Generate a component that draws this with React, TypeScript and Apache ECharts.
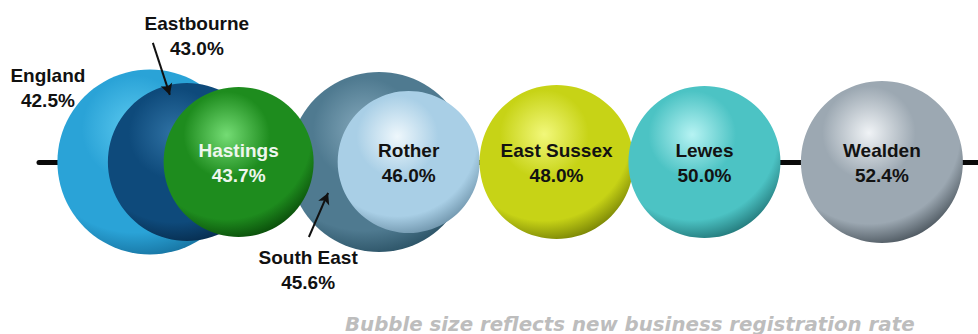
import React, { useEffect, useRef } from "react";
import * as echarts from "echarts";

// Areas along the axis (%)
const names = ["England", "Eastbourne", "South East", "Hastings", "Rother", "East Sussex", "Lewes", "Wealden"];
const rates = [42.5, 43.0, 45.6, 43.7, 46.0, 48.0, 50.0, 52.4];
// Bubble size reflects new business registration rate (relative diameter)
const bubbleSizes = [185, 158, 180, 150, 142, 154, 152, 162];
const noteText = "Bubble size reflects new business registration rate";

// Sphere colours: [highlight, base, edge]
const sphereColors: Record<string, string[]> = {
  England: ["#5ccaf0", "#2aa3d7", "#156f9c"],
  Eastbourne: ["#2f72a4", "#0e4a7b", "#062a4a"],
  "South East": ["#86aabd", "#4f7a90", "#284f62"],
  Hastings: ["#74dc74", "#1e8c1e", "#084608"],
  Rother: ["#eef7fc", "#a9cfe6", "#6a8fa6"],
  "East Sussex": ["#f2f87a", "#c7d316", "#717c04"],
  Lewes: ["#b6f3f3", "#4cc3c4", "#1f7173"],
  Wealden: ["#f0f3f6", "#9ca8b2", "#444e56"],
};

// Outside-label placements (label offset from bubble centre)
const outsideLabels: Record<string, number[]> = {
  England: [-102, -74],
  Eastbourne: [10, -126],
  "South East": [-71, 108],
};

// Arrow annotations in data coordinates [[x1, y1], [x2, y2]]
const arrowEastbourne = [[42.54, 0.735], [42.77, 0.414]];
const arrowSouthEast = [[44.65, -0.463], [44.91, -0.191]];

export default function App() {
  const ref = useRef<HTMLDivElement>(null);

  useEffect(() => {
    if (!ref.current) return;
    const chart = echarts.init(ref.current, null, { renderer: "svg" });

    const data = names.map((name, i) => {
      const [hi, base, edge] = sphereColors[name];
      const outside = outsideLabels[name];
      return {
        name,
        value: [rates[i], 0, bubbleSizes[i]],
        itemStyle: {
          opacity: 1,
          color: new echarts.graphic.RadialGradient(0.42, 0.32, 0.72, [
            { offset: 0, color: hi },
            { offset: 0.4, color: base },
            { offset: 0.78, color: base },
            { offset: 1, color: edge },
          ]),
        },
        label: outside
          ? { position: "inside", offset: outside, color: "#111111" }
          : {
              position: "inside",
              offset: [0, 1],
              color: name === "Hastings" ? "#eef6ee" : "#121212",
            },
      };
    });

    chart.setOption({
      animation: false,
      grid: { left: 39, right: 0, top: 0, height: 324 },
      xAxis: {
        type: "value",
        min: 41,
        max: 53.7,
        axisLine: { show: true, onZero: true, lineStyle: { color: "#0a0a0a", width: 5 } },
        axisTick: { show: false },
        axisLabel: { show: false },
        splitLine: { show: false },
      },
      yAxis: {
        type: "value",
        min: -1,
        max: 1,
        show: false,
        splitLine: { show: false },
      },
      series: [
        {
          type: "scatter",
          clip: false,
          z: 2,
          data,
          symbolSize: (v: number[]) => v[2],
          itemStyle: { opacity: 1 },
          emphasis: { disabled: true },
          label: {
            show: true,
            fontFamily: "Liberation Sans, Arial, sans-serif",
            fontWeight: "bold",
            fontSize: 19,
            lineHeight: 25,
            align: "center",
            verticalAlign: "middle",
            formatter: (p: any) => `${p.name}\n${p.value[0].toFixed(1)}%`,
          },
        },
        {
          type: "scatter",
          z: 5,
          data: [],
          markLine: {
            silent: true,
            symbol: ["none", "arrow"],
            symbolSize: [9, 11],
            label: { show: false },
            lineStyle: { color: "#111111", width: 2, type: "solid", opacity: 1 },
            emphasis: { disabled: true },
            data: [
              [{ coord: arrowEastbourne[0] }, { coord: arrowEastbourne[1] }],
              [{ coord: arrowSouthEast[0] }, { coord: arrowSouthEast[1] }],
            ],
          },
        },
      ],
      graphic: [
        {
          type: "text",
          left: 345,
          top: 314,
          style: {
            text: noteText,
            fontFamily: "DejaVu Sans, sans-serif",
            fontWeight: "bold",
            fontStyle: "italic",
            fontSize: 19.8,
            fill: "#bdbdbd",
          },
        },
      ],
    });

    return () => chart.dispose();
  }, []);

  return (
    <div
      ref={ref}
      style={{ position: "absolute", left: 0, top: 0, width: 978, height: 334, background: "#ffffff" }}
    />
  );
}
